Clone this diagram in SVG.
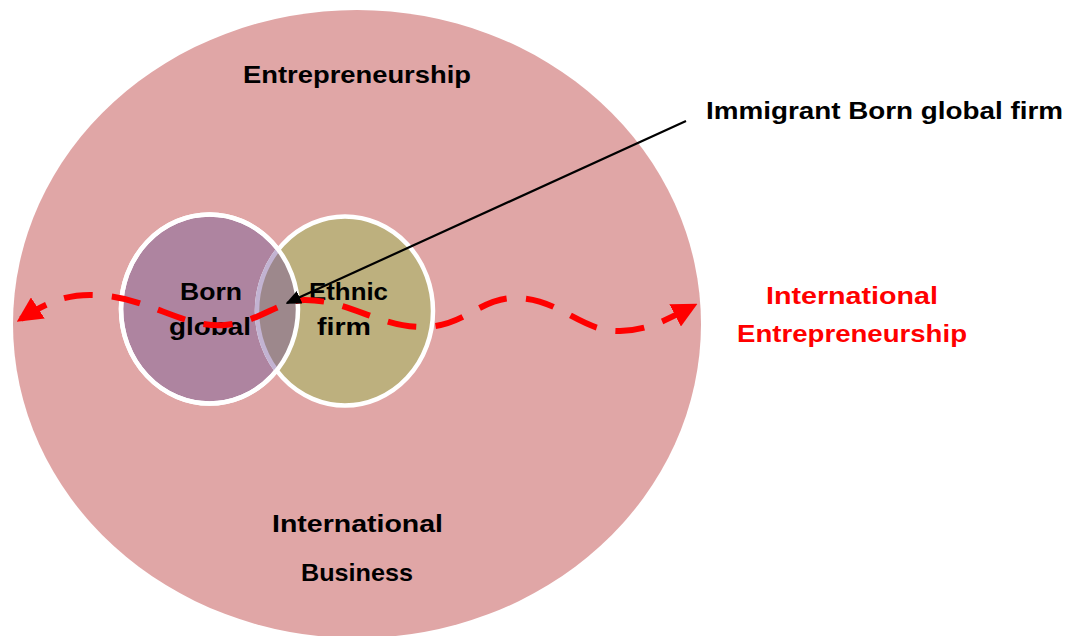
<svg xmlns="http://www.w3.org/2000/svg" width="1069" height="636" viewBox="0 0 1069 636">
  <defs>
    <style>
      .lbl { font-family: "Liberation Sans", Arial, sans-serif; font-weight: bold; font-size: 24px; fill: #000; text-anchor: middle; }
      .red { fill: #FF0000; }
      .wave { fill: none; stroke: #FF0000; stroke-width: 6; stroke-dasharray: 29 19; }
      .pointer { fill: none; stroke: #000; stroke-width: 2.2; }
    </style>
    <marker id="redHead" viewBox="0 0 10 10" refX="8" refY="5" markerWidth="4.2" markerHeight="4.2" orient="auto-start-reverse" markerUnits="strokeWidth">
      <path d="M0,0 L10,5 L0,10 Z" fill="#FF0000"/>
    </marker>
    <marker id="blackHead" viewBox="0 0 10 10" refX="9" refY="5" markerWidth="7" markerHeight="7" orient="auto" markerUnits="strokeWidth">
      <path d="M0,0.5 L10,5 L0,9.5 Z" fill="#000"/>
    </marker>
    <clipPath id="bgClip">
      <ellipse cx="209.5" cy="309" rx="88.5" ry="94.5"/>
    </clipPath>
  </defs>

  <!-- outer field: entrepreneurship / international business -->
  <g id="field">
    <ellipse cx="357" cy="324" rx="344" ry="314" fill="#E0A6A6"/>
    <text class="lbl" x="357" y="83" textLength="228" lengthAdjust="spacingAndGlyphs">Entrepreneurship</text>
    <text class="lbl" x="357.5" y="532" textLength="171" lengthAdjust="spacingAndGlyphs">International</text>
    <text class="lbl" x="357" y="581" textLength="112" lengthAdjust="spacingAndGlyphs">Business</text>
  </g>

  <!-- born global circle -->
  <g id="born-global">
    <ellipse cx="209.5" cy="309" rx="88.5" ry="94.5" fill="#AE84A0" stroke="#FFFFFF" stroke-width="4.5"/>
  </g>

  <!-- ethnic firm circle and overlap -->
  <g id="ethnic-firm">
    <ellipse cx="345" cy="311" rx="88" ry="94.5" fill="#BDB07E" stroke="#FFFFFF" stroke-width="4.5"/>
    <g clip-path="url(#bgClip)">
      <ellipse cx="345" cy="311" rx="88" ry="94.5" fill="#9D888C" stroke="#C2B3D2" stroke-width="4.5"/>
    </g>
    <ellipse cx="209.5" cy="309" rx="88.5" ry="94.5" fill="none" stroke="#FFFFFF" stroke-width="4.5"/>
  </g>

  <g id="labels">
    <text class="lbl" x="211" y="300" textLength="62" lengthAdjust="spacingAndGlyphs">Born</text>
    <text class="lbl" x="210" y="335" textLength="82" lengthAdjust="spacingAndGlyphs">global</text>
    <text class="lbl" x="348.5" y="300" textLength="79" lengthAdjust="spacingAndGlyphs">Ethnic</text>
    <text class="lbl" x="344" y="335" textLength="54" lengthAdjust="spacingAndGlyphs">firm</text>
  </g>

  <!-- connectors -->
  <g id="connectors">
    <path class="wave" marker-start="url(#redHead)" marker-end="url(#redHead)"
          d="M 21,319 C 50,300 70,294 95,295 C 150,297 180,328 225,325 C 260,322 280,300 305,300 C 350,300 380,328 425,327 C 465,326 480,298 515,298 C 560,298 580,332 620,331 C 650,330 670,318 693,306"/>
    <path class="pointer" marker-end="url(#blackHead)" d="M 686,121 L 287,303"/>
  </g>

  <g id="annotations">
    <text class="lbl" x="884.5" y="119" textLength="357" lengthAdjust="spacingAndGlyphs">Immigrant Born global firm</text>
    <text class="lbl red" x="852" y="304" textLength="172" lengthAdjust="spacingAndGlyphs">International</text>
    <text class="lbl red" x="852" y="342" textLength="230" lengthAdjust="spacingAndGlyphs">Entrepreneurship</text>
  </g>
</svg>
